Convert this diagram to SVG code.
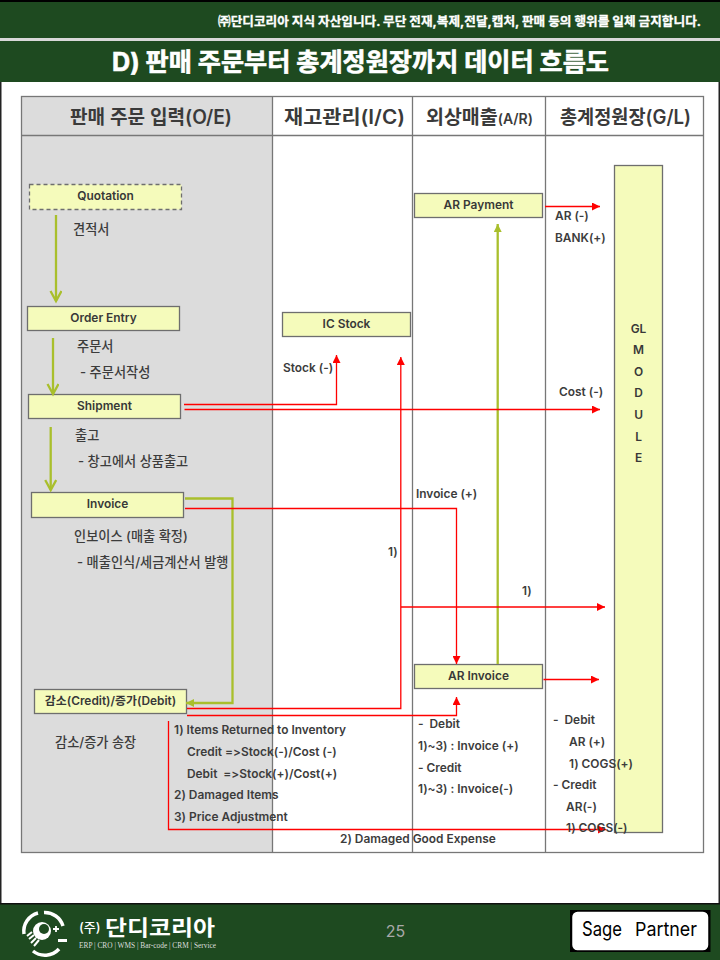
<svg xmlns="http://www.w3.org/2000/svg" width="720" height="960" viewBox="0 0 720 960">
<style>
text{font-family:"Inter","Noto Sans CJK KR",sans-serif;font-weight:600;font-size:11.900px;fill:#3c3c3c;white-space:pre;font-feature-settings:"calt" 0,"liga" 0}
.k{font-size:13.200px;font-weight:500}
.h{font-size:19.500px;font-weight:600;fill:#3a3a3a}
.n{fill:#f5fbbb;stroke:#6e6e6e;stroke-width:1.300}
.c{text-anchor:middle;fill:#383838}
.g{fill:none;stroke:#a9bf2c;stroke-width:2.300}
.r{fill:none;stroke:#f00;stroke-width:1.300}
.tl{fill:none;stroke:#777;stroke-width:1.300}
</style>
<defs>
<marker id="ar" markerUnits="userSpaceOnUse" markerWidth="9" markerHeight="8" refX="8" refY="4" orient="auto"><path d="M0 0L8 4L0 8z" fill="#f00"/></marker>
<marker id="ag" markerUnits="userSpaceOnUse" markerWidth="9" markerHeight="8" refX="8" refY="4" orient="auto"><path d="M0 0L8 4L0 8z" fill="#a9bf2c"/></marker>
<marker id="ao" markerUnits="userSpaceOnUse" markerWidth="14" markerHeight="14" refX="11" refY="6" orient="auto"><path d="M1 0.500L11 6L1 11.500" fill="none" stroke="#a9bf2c" stroke-width="2.300"/></marker>
</defs>
<rect width="720" height="960" fill="#fff"/>
<rect width="720" height="3" fill="#000"/>
<rect y="2" width="720" height="36" fill="#1e4a20"/>
<rect y="38" width="720" height="3" fill="#d8d8d8"/>
<rect y="41" width="720" height="41" fill="#1e4a20"/>
<rect x="0" y="82" width="1.500" height="822" fill="#222"/>
<rect x="718.500" y="82" width="1.500" height="822" fill="#222"/>
<text x="218" y="26" textLength="483" lengthAdjust="spacingAndGlyphs" style="fill:#fff;stroke:#fff;stroke-width:.3;font-size:12.500px;font-weight:700">㈜단디코리아 지식 자산입니다. 무단 전재,복제,전달,캡처, 판매 등의 행위를 일체 금지합니다.</text>
<text x="112" y="71" textLength="497" lengthAdjust="spacingAndGlyphs" style="fill:#fff;stroke:#fff;stroke-width:.6;font-size:25px;font-weight:700">D) 판매 주문부터 총계정원장까지 데이터 흐름도</text>

<g id="table">
<rect x="21.500" y="96.500" width="682" height="756" fill="#fff"/>
<rect x="21.500" y="96.500" width="251" height="756" fill="#dcdcdc"/>
<rect x="21.500" y="96.500" width="682" height="756" class="tl"/>
<path class="tl" d="M21.500 135.500H703.500M272.500 96.500V852.500M412.500 96.500V852.500M545.500 96.500V852.500"/>
<text class="h" x="70" y="124" textLength="162" lengthAdjust="spacingAndGlyphs">판매 주문 입력(O/E)</text>
<text class="h" x="284" y="124" textLength="121" lengthAdjust="spacingAndGlyphs">재고관리(I/C)</text>
<text class="h" x="426" y="124" textLength="107" lengthAdjust="spacingAndGlyphs">외상매출<tspan style="font-size:14px">(A/R)</tspan></text>
<text class="h" x="560" y="124" textLength="131" lengthAdjust="spacingAndGlyphs">총계정원장(G/L)</text>
</g>

<g id="quotation"><rect class="n" x="29.500" y="184.500" width="152" height="25" stroke-dasharray="4 3"/><text class="c" x="105.500" y="200">Quotation</text></g>
<g id="order-entry"><rect class="n" x="27.500" y="306.500" width="152" height="24"/><text class="c" x="103.500" y="322">Order Entry</text></g>
<g id="shipment"><rect class="n" x="28.500" y="394.500" width="152" height="24"/><text class="c" x="104.500" y="410">Shipment</text></g>
<g id="invoice"><rect class="n" x="31.500" y="492.500" width="152" height="25"/><text class="c" x="107.500" y="508">Invoice</text></g>
<g id="credit-debit"><rect class="n" x="34.500" y="689.500" width="152" height="24"/><text class="c" x="110.500" y="705">감소(Credit)/증가(Debit)</text></g>
<g id="ic-stock"><rect class="n" x="282.500" y="312.500" width="128" height="24"/><text class="c" x="346.500" y="328">IC Stock</text></g>
<g id="ar-payment"><rect class="n" x="414.500" y="193.500" width="128" height="24"/><text class="c" x="478.500" y="209">AR Payment</text></g>
<g id="ar-invoice"><rect class="n" x="414.500" y="664.500" width="128" height="24"/><text class="c" x="478.500" y="680">AR Invoice</text></g>
<g id="gl-module"><rect class="n" x="614.500" y="165.500" width="48" height="667"/>
<text class="c" x="638.500" y="333">GL</text><text class="c" x="638.500" y="354">M</text><text class="c" x="638.500" y="376">O</text><text class="c" x="638.500" y="397">D</text><text class="c" x="638.500" y="419">U</text><text class="c" x="638.500" y="441">L</text><text class="c" x="638.500" y="462">E</text></g>

<g id="connectors">
<path class="g" d="M56 215V301" marker-end="url(#ao)"/>
<path class="g" d="M53 338V394" marker-end="url(#ao)"/>
<path class="g" d="M50.700 427V490" marker-end="url(#ao)"/>
<path class="g" d="M185 498.500H232.500V703H186" marker-end="url(#ag)"/>
<path class="g" d="M497.700 664V224" marker-end="url(#ag)"/>
<path class="r" d="M184 404.500H336.500V355" marker-end="url(#ar)"/>
<path class="r" d="M184.500 409.500H600" marker-end="url(#ar)"/>
<path class="r" d="M185 508.500H456.500V664" marker-end="url(#ar)"/>
<path class="r" d="M187 708.500H400.800V357" marker-end="url(#ar)"/>
<path class="r" d="M187 715.500H456.500V697" marker-end="url(#ar)"/>
<path class="r" d="M401 607H605" marker-end="url(#ar)"/>
<path class="r" d="M545 206.500H600" marker-end="url(#ar)"/>
<path class="r" d="M543.500 679.500H599" marker-end="url(#ar)"/>
<path class="r" d="M168.500 721V829.500H606" marker-end="url(#ar)"/>
</g>

<g id="labels">
<text class="k" x="73" y="234">견적서</text>
<text class="k" x="77" y="351">주문서</text>
<text class="k" x="80" y="377">- 주문서작성</text>
<text class="k" x="75" y="440">출고</text>
<text class="k" x="78" y="466">- 창고에서 상품출고</text>
<text class="k" x="74" y="541">인보이스 (매출 확정)</text>
<text class="k" x="77" y="567">- 매출인식/세금계산서 발행</text>
<text class="k" x="55" y="747">감소/증가 송장</text>
<text x="174" y="734">1) Items Returned to Inventory</text>
<text x="187" y="756">Credit =&gt;Stock(-)/Cost (-)</text>
<text x="187" y="778">Debit  =&gt;Stock(+)/Cost(+)</text>
<text x="174" y="799">2) Damaged Items</text>
<text x="174" y="821">3) Price Adjustment</text>
<text x="340" y="843">2) Damaged Good Expense</text>
<text x="283" y="372">Stock (-)</text>
<text x="559" y="396">Cost (-)</text>
<text x="555" y="220">AR (-)</text>
<text x="555" y="242">BANK(+)</text>
<text x="416" y="498">Invoice (+)</text>
<text x="388" y="556">1)</text>
<text x="522" y="595">1)</text>
<text x="418" y="728">-  Debit</text>
<text x="418" y="750">1)~3) : Invoice (+)</text>
<text x="418" y="772">- Credit</text>
<text x="418" y="793">1)~3) : Invoice(-)</text>
<text x="553" y="724">-  Debit</text>
<text x="569" y="746">AR (+)</text>
<text x="569" y="768">1) COGS(+)</text>
<text x="553" y="789">- Credit</text>
<text x="566" y="811">AR(-)</text>
<text x="566" y="832">1) COGS(-)</text>
</g>

<g id="footer">
<rect y="903" width="720" height="57" fill="#1e4a20"/>
<rect y="903" width="720" height="1.500" fill="#111"/>
<g fill="none" stroke="#fff" stroke-width="3.500">
<path d="M24 934A19 19 0 0 1 38 913"/>
<path d="M44 912.500A19 19 0 0 1 63 926"/>
<path d="M33 951A19 19 0 0 0 59 949"/>
</g>
<circle cx="42" cy="931" r="9" fill="#fff"/>
<circle cx="44" cy="929" r="5" fill="#1e4a20"/>
<path d="M34 935L29 939M36 938L31 943M39 940L34 946M32 932L27 936" stroke="#fff" stroke-width="2"/>
<path d="M53 929h6M56 926v6" stroke="#fff" stroke-width="1.800"/>
<rect x="58" y="939" width="9" height="3" fill="#fff"/>
<text x="79" y="932" style="fill:#fff;font-size:13px;font-weight:500">(주)</text>
<text x="105" y="935" textLength="110" lengthAdjust="spacingAndGlyphs" style="fill:#fff;font-size:21px;font-weight:700">단디코리아</text>
<text x="79" y="948" textLength="137" lengthAdjust="spacingAndGlyphs" style="fill:#ddd;font-family:'Liberation Serif',serif;font-size:8px;font-weight:400">ERP | CRO | WMS | Bar-code | CRM | Service</text>
<text x="395.500" y="937" text-anchor="middle" style="fill:#a9a9a9;font-size:16px;font-weight:400">25</text>
<rect x="570" y="910" width="140.500" height="42" fill="#000"/>
<rect x="571.500" y="911" width="137.500" height="40" rx="6" fill="#fff" stroke="#000" stroke-width="1.500"/>
<text x="582" y="936" textLength="40" lengthAdjust="spacingAndGlyphs" style="fill:#000;font-size:20px;font-weight:400">Sage</text>
<text x="635" y="936" textLength="62" lengthAdjust="spacingAndGlyphs" style="fill:#000;font-size:19px;font-weight:400">Partner</text>
</g>
</svg>
